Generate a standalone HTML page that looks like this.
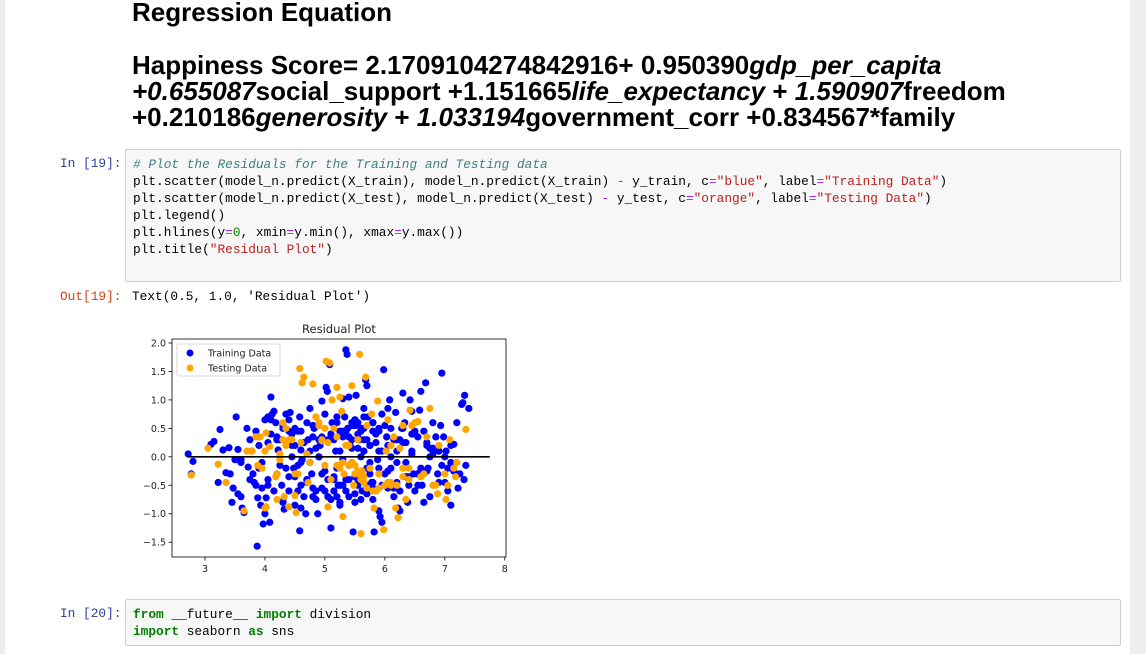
<!DOCTYPE html>
<html><head><meta charset="utf-8">
<style>
body{margin:0;width:1146px;height:654px;background:#eeeeee;overflow:hidden;font-family:"Liberation Sans",sans-serif;}
#nb{position:absolute;left:5px;top:0;width:1125px;height:654px;background:#fff;}
.h{position:absolute;left:127px;font-weight:bold;font-size:26px;color:#000;white-space:nowrap;line-height:26px;}
.code{position:absolute;left:120px;width:996px;background:#f7f7f7;border:1px solid #cfcfcf;border-radius:2px;font-family:"Liberation Mono",monospace;font-size:12.8px;line-height:17px;padding:6px 0 0 7px;box-sizing:border-box;white-space:pre;color:#000;}
.pin{position:absolute;left:55px;font-family:"Liberation Mono",monospace;font-size:12.8px;color:#303f9f;}
.pout{position:absolute;left:55px;font-family:"Liberation Mono",monospace;font-size:12.8px;color:#d84315;}
.cm{color:#408080;font-style:italic}.st{color:#ba2121}.op{color:#aa22ff}.nu{color:#080}.kw{color:#008000;font-weight:bold}
</style></head><body>
<div id="nb">
<div class="h" style="top:-1px">Regression Equation</div>
<div class="h" style="top:52px">Happiness Score= 2.1709104274842916+ 0.950390<i>gdp_per_capita</i><br><i>+0.655087</i>social_support +1.151665<i>life_expectancy</i> + <i>1.590907</i>freedom<br>+0.210186<i>generosity</i> + <i>1.033194</i>government_corr +0.834567*family</div>
<div class="pin" style="top:156px">In [19]:</div>
<div class="code" style="top:149px;height:133px"><span class="cm"># Plot the Residuals for the Training and Testing data</span>
plt.scatter(model_n.predict(X_train), model_n.predict(X_train) <span class="op">-</span> y_train, c<span class="op">=</span><span class="st">"blue"</span>, label<span class="op">=</span><span class="st">"Training Data"</span>)
plt.scatter(model_n.predict(X_test), model_n.predict(X_test) <span class="op">-</span> y_test, c<span class="op">=</span><span class="st">"orange"</span>, label<span class="op">=</span><span class="st">"Testing Data"</span>)
plt.legend()
plt.hlines(y<span class="op">=</span><span class="nu">0</span>, xmin<span class="op">=</span>y.min(), xmax<span class="op">=</span>y.max())
plt.title(<span class="st">"Residual Plot"</span>)</div>
<div class="pout" style="top:289px">Out[19]:</div>
<div class="pin" style="top:289px;left:127px;color:#000">Text(0.5, 1.0, 'Residual Plot')</div>
<div class="pin" style="top:606px">In [20]:</div>
<div class="code" style="top:599px;height:47px"><span class="kw">from</span> __future__ <span class="kw">import</span> division
<span class="kw">import</span> seaborn <span class="kw">as</span> sns</div>
</div>
<svg id="chart" width="1146" height="654" style="position:absolute;left:0;top:0"></svg>
<script>
const xTicks=[3,4,5,6,7,8];
const yTicks=[-1.5,-1.0,-0.5,0.0,0.5,1.0,1.5,2.0];
const trainX=[2.72,2.8,2.77,3.1,3.15,3.25,3.22,3.3,3.35,3.4,3.42,3.52,3.5,3.47,3.45,3.55,3.6,3.62,3.65,3.55,3.6,3.72,3.75,3.78,3.8,3.82,3.85,3.88,3.87,3.9,3.93,3.97,4.0,4.02,4.05,4.08,4.0,4.05,4.1,4.12,4.15,4.18,4.2,4.22,4.25,4.28,4.3,4.32,4.35,4.4,4.42,4.45,4.48,4.5,4.5,4.55,4.58,4.6,4.62,4.6,4.65,4.68,4.58,4.7,4.72,4.75,4.78,4.8,4.82,4.85,4.88,4.9,4.92,4.95,4.95,5.0,5.02,5.04,5.05,5.08,5.1,5.1,5.12,5.15,5.18,5.2,5.22,5.25,5.25,5.3,5.33,5.35,5.37,5.38,5.4,5.42,5.45,5.47,5.5,5.5,5.52,5.55,5.58,5.6,5.62,5.65,5.68,5.7,5.72,5.75,5.78,5.8,5.82,5.85,5.88,5.9,5.92,5.95,5.98,6.0,6.03,6.05,6.08,6.1,6.12,6.15,6.18,6.2,6.22,6.25,6.28,6.3,6.33,6.35,6.38,6.42,6.45,6.48,6.5,6.55,6.58,6.6,6.62,6.65,6.68,6.7,6.72,6.75,6.8,6.85,6.88,6.9,6.93,6.95,6.98,7.0,7.02,7.05,7.1,7.15,7.2,7.22,7.25,7.28,7.3,7.33,7.35,7.4,7.32,
4.1,4.2,4.3,4.4,4.5,4.6,4.7,4.8,4.9,5.0,5.1,5.2,5.3,5.4,5.5,5.6,5.7,5.8,5.9,6.0,6.1,6.2,6.3,6.4,6.5,6.6,4.15,4.25,4.35,4.45,4.55,4.65,4.75,4.85,4.95,5.05,5.15,5.25,5.35,5.45,5.55,5.65,5.75,5.85,5.95,6.05,6.15,6.25,6.35,6.45,6.55,6.65,6.75,4.05,4.3,4.55,4.8,5.05,5.3,5.55,5.8,6.05,6.3,6.55,6.8,7.05,3.95,4.2,4.45,4.7,4.95,5.2,5.45,5.7,5.95,6.2,6.45,6.7,3.7,3.9,4.4,4.9,5.4,5.9,6.4,6.9,7.1,5.35,5.45,5.55,5.65,5.25,5.15,
5.3,5.4,5.5,5.6,5.7,5.8,5.35,5.45,5.55,5.65,5.75,5.85,5.4,5.5,5.6,5.7,5.8,5.9,5.3,5.45,5.6,5.75,5.9,5.2,5.5,5.65,5.8,4.2,4.3,4.5,4.6,4.8,4.9,4.4,4.7,4.1,4.85,6.5,6.6,6.7,6.8,6.9,7.0,7.1,6.55,6.75,6.95,7.15,6.25,6.35,6.45,3.6,3.75,3.85,3.95,4.05,4.6,4.75,5.0,5.15,5.25,5.95,6.1,6.2,6.35,6.05,6.15];
const trainY=[0.05,-0.08,-0.3,0.22,0.27,0.48,-0.45,0.12,-0.28,0.16,-0.3,0.7,-0.05,-0.55,-0.8,-0.65,-0.7,-0.9,-0.98,0.13,-0.1,-0.18,0.3,0.1,-0.3,-0.45,-0.5,-0.72,-1.57,0.2,-0.85,-1.18,-1.0,-0.72,-0.5,-1.15,0.65,0.7,1.05,0.75,0.8,0.6,0.35,0.12,-0.15,-0.5,-0.78,-0.92,0.75,0.65,0.78,0.0,-0.2,-0.35,0.5,0.45,0.7,0.12,-0.05,-0.5,-0.7,-1.0,-1.3,0.6,0.3,0.85,-0.3,-0.55,0.5,-0.75,-1.0,0.0,0.2,0.98,-0.55,0.75,1.22,1.15,-0.4,1.62,-0.75,-1.25,0.6,0.3,0.1,-0.2,-0.5,-0.85,0.45,1.02,0.7,1.88,1.8,0.5,1.05,0.2,-0.1,-1.32,-0.8,0.65,1.08,0.6,0.3,-0.3,-0.6,0.85,1.35,1.25,0.7,0.2,-0.45,-0.75,-1.32,0.4,-0.05,-0.95,-1.05,-1.15,1.53,0.55,0.35,0.85,1.0,-0.2,-0.5,-0.7,0.78,0.1,-0.9,-0.95,0.5,1.12,0.6,-0.1,-0.8,1.0,0.4,-0.3,-0.6,0.35,0.82,1.15,-0.5,-0.8,1.3,0.2,-0.2,-0.7,0.6,0.35,-0.3,0.1,0.55,1.47,0.35,-0.45,0.1,-0.2,0.2,0.22,0.6,-0.55,-0.3,0.92,0.95,1.08,-0.15,0.85,-0.4,
0.4,-0.3,0.5,-0.6,0.2,0.45,-0.4,0.55,0.3,-0.25,0.4,0.6,-0.5,0.35,-0.35,0.5,0.3,-0.55,0.45,-0.3,0.5,-0.45,0.25,-0.35,0.4,-0.2,-0.6,0.3,-0.2,0.4,-0.15,0.25,-0.1,0.15,-0.3,0.3,-0.6,0.1,-0.4,0.55,-0.5,0.1,-0.3,0.25,-0.5,0.2,0.3,-0.6,0.25,0.1,-0.3,0.45,0.0,-0.4,0.55,-0.6,0.35,-0.7,0.45,-0.4,0.6,-0.55,0.5,-0.5,0.15,-0.6,-0.1,0.3,0.2,-0.45,0.35,-0.7,0.6,-0.2,0.75,-0.1,0.8,-0.25,0.5,-0.2,0.45,0.0,-0.4,0.5,-0.5,0.1,-0.85,-0.6,0.3,0.15,0.7,-0.5,-0.35,0.35,-0.15,0.55,0.45,-0.65,
0.6,0.45,0.55,0.4,0.3,0.2,-0.6,-0.7,-0.65,-0.75,-0.5,-0.45,0.1,-0.05,0.15,0.0,-0.1,-0.2,0.7,0.65,0.5,0.45,0.3,-0.8,-0.85,-0.9,-0.7,0.55,-0.35,-0.4,0.65,-0.6,0.45,-0.25,0.25,0.05,-0.45,0.0,-0.1,-0.3,0.15,-0.15,-0.25,0.3,-0.35,0.05,-0.05,-0.4,0.45,-0.55,0.25,-0.1,0.1,-0.6,-0.4,-0.8,0.1,0.0,0.3,-0.35,-0.25,-0.55,-0.45,0.25,0.45,-0.55,0.2,-0.3,-0.1];
const testX=[2.77,3.05,3.22,3.35,3.65,3.7,3.78,3.85,3.88,3.92,3.95,4.0,4.02,4.02,4.08,4.18,4.2,4.25,4.3,4.32,4.35,4.4,4.45,4.5,4.52,4.55,4.58,4.62,4.65,4.7,4.72,4.8,4.85,4.9,4.95,5.0,5.02,5.05,5.08,5.12,5.15,5.2,5.22,5.25,5.28,5.3,5.32,5.4,5.45,5.48,5.5,5.55,5.58,5.6,5.62,5.65,5.68,5.7,5.75,5.78,5.82,5.88,5.9,5.98,6.02,6.05,6.1,6.15,6.18,6.2,6.22,6.25,6.3,6.35,6.4,6.42,6.45,6.5,6.55,6.6,6.65,6.7,6.75,6.8,6.85,6.88,6.9,7.0,7.02,7.05,7.08,7.15,7.18,7.35,7.2,4.4,4.6,4.9,5.1,5.35,5.55,5.7,5.85,6.1,6.3,4.25,4.75,5.2,5.6,6.0,
5.5,5.55,5.6,5.65,5.4,5.45,5.2,5.25,5.3,4.95,5.0,5.05,4.3,4.35,4.2,6.3,6.4,6.05,6.1,5.9,5.8,3.9,4.0,4.5,6.6];
const testY=[-0.32,0.15,-0.13,-0.45,-0.95,0.1,0.1,0.35,-0.15,0.35,-0.2,-0.9,-0.88,0.42,0.18,-0.35,-0.75,-0.05,0.6,-0.7,0.5,-0.88,0.3,-0.68,-0.98,-0.3,1.55,1.3,1.4,0.05,-0.45,1.28,0.7,0.55,0.28,-0.15,1.68,-0.88,1.65,1.0,0.5,1.22,-0.15,1.05,0.8,-1.05,-0.3,0.2,1.25,-0.5,-0.15,0.3,1.8,-1.35,-0.25,-0.45,1.4,0.55,-0.2,0.75,-0.9,0.98,-0.3,-1.28,0.1,0.65,-0.45,0.35,-0.9,-0.5,-1.07,0.15,0.55,-0.75,-0.2,0.82,0.55,0.6,0.62,-0.35,-0.3,0.35,0.85,-0.5,-0.5,-0.65,0.2,-0.3,-0.75,-0.5,0.3,-0.2,-0.35,0.48,-0.1,0.3,0.25,0.6,-0.4,0.2,-0.3,-0.55,-0.6,0.2,-0.2,0.05,-0.1,0.35,-0.25,-0.5,
-0.3,-0.25,-0.4,-0.35,-0.15,-0.1,-0.15,-0.2,-0.1,0.3,0.5,0.25,0.3,0.2,-0.3,-0.35,-0.4,-0.45,-0.5,-0.55,-0.6,0.35,0.1,-0.3,-0.35];
const NS='http://www.w3.org/2000/svg';
const svg=document.getElementById('chart');
const L=172,R=506,T=339,B=557;
const X0=2.45,X1=8.02,Y0=-1.76,Y1=2.07;
function sx(v){return L+(v-X0)/(X1-X0)*(R-L);}
function sy(v){return B-(v-Y0)/(Y1-Y0)*(B-T);}
function mk(t,a){const e=document.createElementNS(NS,t);for(const k in a)e.setAttribute(k,a[k]);svg.appendChild(e);return e;}
const bg=mk('rect',{x:L,y:T,width:R-L,height:B-T,fill:'#fff'});


trainX.forEach((x,i)=>{const c=mk('circle',{cx:sx(x),cy:sy(trainY[i]),r:3.6,fill:'#0000ff'});

});
testX.forEach((x,i)=>{const c=mk('circle',{cx:sx(x),cy:sy(testY[i]),r:3.6,fill:'#ffa500'});

});
const hl=mk('line',{x1:sx(2.7),x2:sx(7.75),y1:sy(0),y2:sy(0),stroke:'#000','stroke-width':1.6});


const fr=mk('rect',{x:L,y:T,width:R-L,height:B-T,fill:'none',stroke:'#000','stroke-width':0.8});


xTicks.forEach(v=>{mk('line',{x1:sx(v),x2:sx(v),y1:B,y2:B+3.5,stroke:'#000','stroke-width':0.8});
const t=mk('text',{x:sx(v),y:B+15,'font-size':9.5,'text-anchor':'middle','font-family':'DejaVu Sans, sans-serif',fill:'#222'});t.textContent=v;

});
yTicks.forEach(v=>{mk('line',{x1:L-3.5,x2:L,y1:sy(v),y2:sy(v),stroke:'#000','stroke-width':0.8});
const t=mk('text',{x:L-6,y:sy(v)+3.5,'font-size':9.5,'text-anchor':'end','font-family':'DejaVu Sans, sans-serif',fill:'#222'});t.textContent=(v<0?'\u2212':'')+Math.abs(v).toFixed(1);

});
const ti=mk('text',{x:(L+R)/2,y:333,'font-size':11.5,'text-anchor':'middle','font-family':'DejaVu Sans, sans-serif',fill:'#222'});ti.textContent='Residual Plot';


const lg=mk('rect',{x:177,y:344,width:103,height:32,fill:'#fff',stroke:'#ccc','stroke-width':0.8,rx:2});


[['Training Data','#0000ff',353],['Testing Data','#ffa500',368]].forEach(([n,c,y])=>{mk('circle',{cx:190,cy:y,r:3.5,fill:c});
const t=mk('text',{x:208,y:y+3.5,'font-size':9.5,'font-family':'DejaVu Sans, sans-serif',fill:'#222'});t.textContent=n;

});
</script>
</body></html>
